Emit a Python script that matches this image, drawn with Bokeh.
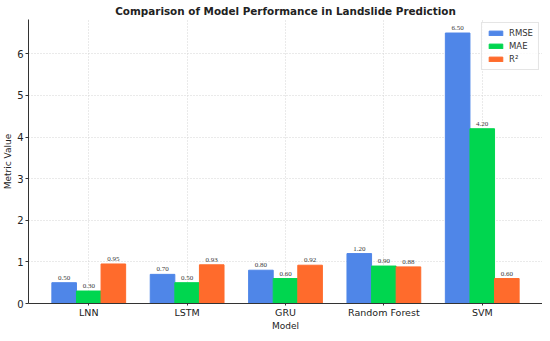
from bokeh.plotting import figure
from bokeh.models import ColumnDataSource, Range1d, FixedTicker, LabelSet, Legend, LegendItem
from bokeh.embed import file_html
from bokeh.resources import INLINE

models = ["LNN", "LSTM", "GRU", "Random Forest", "SVM"]
rmse = [0.50, 0.70, 0.80, 1.20, 6.50]
mae = [0.30, 0.50, 0.60, 0.90, 4.20]
r2 = [0.95, 0.93, 0.92, 0.88, 0.60]
series_names = ["RMSE", "MAE", "R²"]
colors = ["#4f86e8", "#00d64f", "#ff6b2c"]
yticks = [0, 1, 2, 3, 4, 5, 6]

bar_w = 0.25
idx = list(range(len(models)))
ymax = max(rmse + mae + r2) * 1.05

p = figure(width=542, height=333, output_backend="svg", toolbar_location=None,
           x_range=Range1d(-0.6125, len(models) - 1 + 0.6125), y_range=Range1d(0, ymax),
           title="Comparison of Model Performance in Landslide Prediction",
           min_border_left=22, min_border_right=0, min_border_top=4, min_border_bottom=0)
p.title.align = "center"
p.title.text_font = "DejaVu Sans"
p.title.text_font_size = "10.4px"
p.title.text_font_style = "bold"
p.title.text_color = "#222222"
p.title.offset = 0
p.title.standoff = 5

p.outline_line_color = None

legend_items = []
for k, (name, vals, col) in enumerate(zip(series_names, [rmse, mae, r2], colors)):
    off = (k - 1) * bar_w
    xs = [i + off for i in idx]
    src = ColumnDataSource(dict(x=xs, top=vals, lab=["%.2f" % v for v in vals]))
    r = p.vbar(x="x", top="top", width=bar_w, source=src, fill_color=col, line_color=col)
    legend_items.append(LegendItem(label=name, renderers=[r]))
    p.add_layout(LabelSet(x="x", y="top", text="lab", source=src, text_align="center",
                          text_baseline="bottom", y_offset=3, text_font_size="7px",
                          text_font="DejaVu Sans", text_color="#3a3a3a"))

legend = Legend(items=legend_items, location="top_right")
legend.label_text_font = "DejaVu Sans"
legend.label_text_font_size = "8.5px"
legend.label_text_color = "#333333"
legend.glyph_width = 17
legend.glyph_height = 6
legend.label_height = 9
legend.spacing = 3
legend.padding = 5
legend.margin = 3
legend.border_line_color = "#cccccc"
legend.border_line_width = 1
legend.background_fill_alpha = 0.8
p.add_layout(legend)

p.xaxis.ticker = FixedTicker(ticks=idx)
p.xaxis.major_label_overrides = {i: m for i, m in enumerate(models)}
p.yaxis.ticker = FixedTicker(ticks=yticks)
p.xaxis.axis_label = "Model"
p.yaxis.axis_label = "Metric Value"
for ax in [p.xaxis[0], p.yaxis[0]]:
    ax.axis_label_text_font = "DejaVu Sans"
    ax.axis_label_text_font_size = "9px"
    ax.axis_label_text_font_style = "normal"
    ax.axis_label_text_color = "#222222"
    ax.axis_label_standoff = 1
    ax.major_label_text_font = "DejaVu Sans"
    ax.major_label_text_font_size = "9.5px"
    ax.major_label_text_color = "#222222"
    ax.major_label_standoff = 2
    ax.major_tick_in = 0
    ax.major_tick_out = 3
    ax.minor_tick_out = 0
    ax.minor_tick_in = 0
    ax.axis_line_color = "#333333"
    ax.major_tick_line_color = "#333333"
p.yaxis.major_label_text_font_size = "10px"
p.xaxis.major_tick_out = 2
p.xaxis.major_label_standoff = 1
p.xaxis.axis_label_standoff = 0

p.xgrid.ticker = FixedTicker(ticks=idx)
p.ygrid.ticker = FixedTicker(ticks=yticks)
p.grid.grid_line_color = "#d4d4d4"
p.grid.grid_line_dash = "1 2"
p.grid.grid_line_alpha = 1.0

open("out.html", "w").write(file_html(p, INLINE))
